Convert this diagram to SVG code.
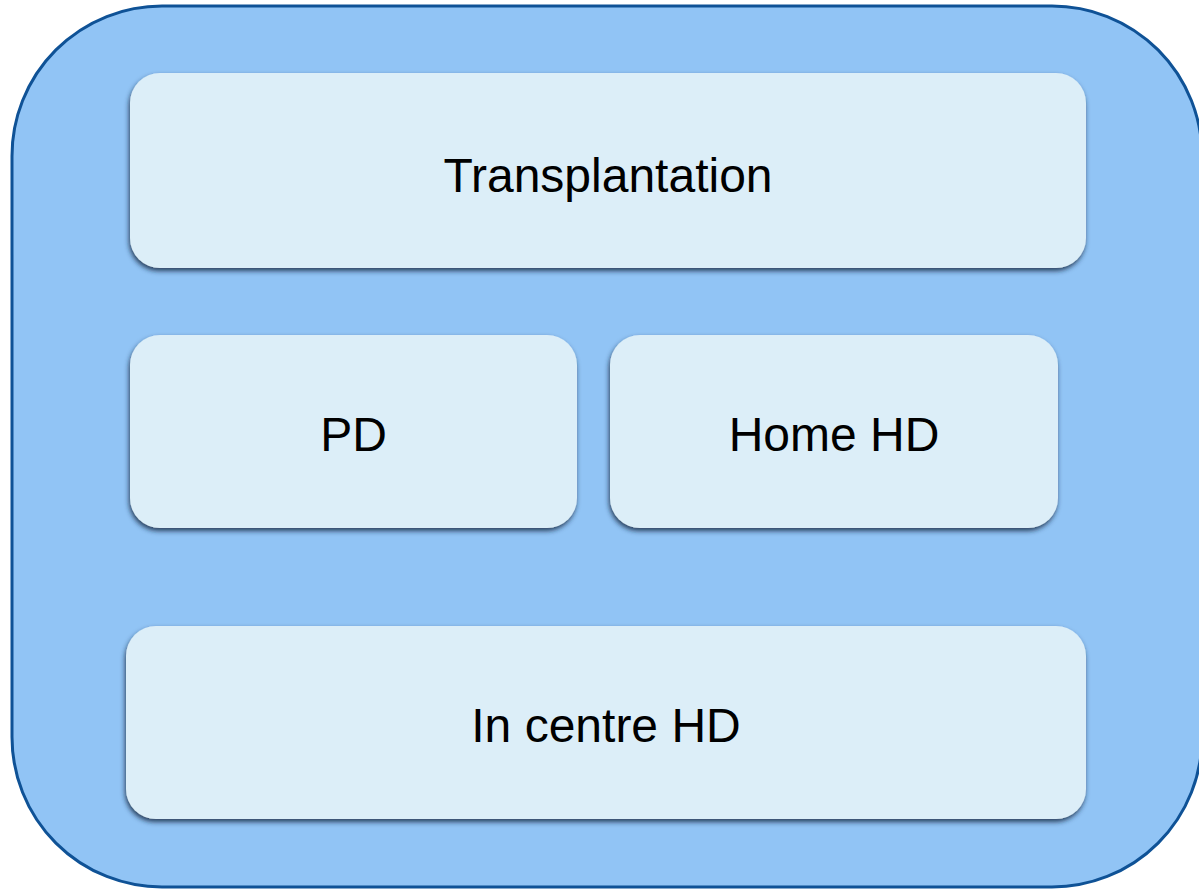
<svg xmlns="http://www.w3.org/2000/svg" width="1199" height="889" viewBox="0 0 1199 889">
<style>
.box{fill:#DCEEF8;filter:url(#sh);}
.lbl{font-family:"Liberation Sans",Arial,sans-serif;font-size:48px;fill:#000;text-anchor:middle;}
</style>
<defs>
<filter id="sh" x="-10%" y="-20%" width="120%" height="150%">
<feDropShadow dx="-1" dy="3" stdDeviation="2.5" flood-color="#132c44" flood-opacity="0.85"/>
</filter>
</defs>
<rect width="1199" height="889" fill="#fff"/>
<g id="container">
<rect x="12" y="6" width="1190" height="881" rx="150" ry="150" fill="#91C4F5" stroke="#0F5296" stroke-width="3"/>
</g>
<g id="transplantation">
<rect class="box" x="130" y="73" width="956" height="195" rx="30"/>
<text class="lbl" x="608" y="192">Transplantation</text>
</g>
<g id="pd">
<rect class="box" x="130" y="335" width="447" height="193" rx="30"/>
<text class="lbl" x="353.5" y="451">PD</text>
</g>
<g id="homehd">
<rect class="box" x="610" y="335" width="448" height="193" rx="30"/>
<text class="lbl" x="834" y="451">Home HD</text>
</g>
<g id="incentrehd">
<rect class="box" x="126" y="626" width="960" height="193" rx="30"/>
<text class="lbl" x="606" y="742">In centre HD</text>
</g>
<g id="connectors"></g>
</svg>
